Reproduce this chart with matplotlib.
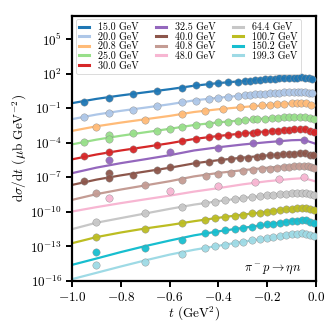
import numpy as np
import matplotlib
matplotlib.use('Agg')
import matplotlib.pyplot as plt
from matplotlib.ticker import FixedLocator, LogFormatterSciNotation, NullLocator

plt.rcParams.update({
    'font.family': 'serif',
    'font.serif': ['cmr10'],
    'mathtext.fontset': 'cm',
    'axes.formatter.use_mathtext': True,
    'axes.unicode_minus': True,
})

# Beam energies and colours
labels = ['15.0 GeV', '20.0 GeV', '20.8 GeV', '25.0 GeV', '30.0 GeV', '32.5 GeV',
          '40.0 GeV', '40.8 GeV', '48.0 GeV', '64.4 GeV', '100.7 GeV',
          '150.2 GeV', '199.3 GeV']
colors = ['#1f77b4', '#aec7e8', '#ffbb78', '#98df8a', '#d62728', '#9467bd',
          '#8c564b', '#c49c94', '#f7b6d2', '#c7c7c7', '#bcbd22', '#17becf',
          '#9edae5']

# model curves (log10 of scaled dsigma/dt) on a t grid
t_line = [-1.0, -0.9, -0.8, -0.7, -0.6, -0.5, -0.4, -0.3, -0.2, -0.1, -0.05, 0.0]
line_15 = [-0.57, -0.2, 0.1, 0.37, 0.64, 0.94, 1.17, 1.35, 1.5, 1.63, 1.66, 1.45]
line_20 = [-1.96, -1.56, -1.24, -0.96, -0.67, -0.33, -0.10, 0.10, 0.26, 0.41, 0.43, 0.21]
line_208 = [-2.98, -2.58, -2.26, -1.97, -1.68, -1.34, -1.10, -0.91, -0.74, -0.59, -0.57, -0.87]
line_25 = [-4.15, -3.74, -3.4, -3.1, -2.8, -2.47, -2.24, -2.05, -1.89, -1.76, -1.74, -2.02]
line_30 = [-5.45, -5.03, -4.68, -4.37, -4.05, -3.68, -3.42, -3.20, -3.02, -2.86, -2.83, -3.13]
line_325 = [-6.65, -6.17, -5.78, -5.44, -5.09, -4.68, -4.40, -4.16, -3.96, -3.79, -3.76, -4.11]
line_40 = [-7.67, -7.21, -6.84, -6.51, -6.18, -5.80, -5.52, -5.30, -5.11, -4.95, -4.92, -5.24]
line_408 = [-8.97, -8.47, -8.07, -7.71, -7.35, -6.93, -6.63, -6.39, -6.18, -6.0, -5.97, -6.22]
line_48 = [-9.98, -9.6, -9.25, -8.92, -8.6, -8.25, -7.95, -7.62, -7.35, -7.15, -7.08, -7.38]
line_644 = [-11.51, -10.95, -10.55, -10.15, -9.75, -9.38, -9.08, -8.8, -8.58, -8.38, -8.33, -8.62]
line_1007 = [-12.73, -12.2, -11.8, -11.45, -11.15, -10.82, -10.52, -10.25, -10.0, -9.72, -9.62, -9.98]
line_1502 = [-14.61, -14.06, -13.5, -12.98, -12.5, -12.05, -11.7, -11.4, -11.1, -10.8, -10.72, -11.05]
line_1993 = [-15.85, -15.3, -14.75, -14.22, -13.72, -13.3, -12.95, -12.6, -12.3, -11.95, -11.85, -12.2]

# data points (t, log10 of scaled dsigma/dt)
t_15 = [-0.95, -0.85, -0.75, -0.65, -0.55, -0.49, -0.44, -0.40, -0.36, -0.32, -0.29,
        -0.27, -0.25, -0.23, -0.21, -0.19, -0.17, -0.15, -0.13, -0.11, -0.09, -0.08,
        -0.06, -0.045, -0.03, -0.015]
y_15 = [-0.44, -0.09, 0.21, 0.47, 0.78, 0.99, 1.06, 1.15, 1.25, 1.30, 1.37, 1.39,
        1.42, 1.46, 1.50, 1.52, 1.55, 1.57, 1.60, 1.62, 1.64, 1.65, 1.66, 1.64, 1.60, 1.55]
t_20 = [-0.95, -0.85, -0.75, -0.65, -0.55, -0.49, -0.44, -0.40, -0.36, -0.32, -0.29,
        -0.27, -0.25, -0.23, -0.21, -0.19, -0.17, -0.15, -0.13, -0.11, -0.09, -0.075,
        -0.06, -0.045, -0.03, -0.015]
y_20 = [-1.74, -1.44, -1.16, -0.81, -0.49, -0.35, -0.22, -0.12, -0.03, 0.06, 0.12,
        0.15, 0.18, 0.22, 0.25, 0.28, 0.31, 0.34, 0.37, 0.40, 0.42, 0.43, 0.43, 0.40,
        0.34, 0.28]
t_208 = [-0.9, -0.7, -0.55, -0.455, -0.38, -0.31, -0.26, -0.22, -0.19, -0.16, -0.13,
         -0.10, -0.08, -0.06, -0.04, -0.02]
y_208 = [-2.66, -2.02, -1.53, -1.25, -1.06, -0.92, -0.84, -0.77, -0.72, -0.67, -0.63,
         -0.59, -0.58, -0.57, -0.60, -0.70]
t_25 = [-0.95, -0.85, -0.85, -0.75, -0.65, -0.60, -0.55, -0.49, -0.44, -0.40, -0.36,
        -0.32, -0.29, -0.26, -0.24, -0.21, -0.18, -0.155, -0.13, -0.11, -0.09, -0.065,
        -0.045, -0.025, -0.008]
y_25 = [-3.91, -3.35, -3.70, -3.18, -2.98, -2.83, -2.66, -2.46, -2.38, -2.25, -2.17,
        -2.09, -2.04, -1.99, -1.96, -1.91, -1.86, -1.83, -1.80, -1.77, -1.75, -1.74,
        -1.76, -1.85, -1.95]
t_30 = [-0.95, -0.85, -0.75, -0.65, -0.55, -0.49, -0.44, -0.40, -0.36, -0.32, -0.29,
        -0.26, -0.24, -0.21, -0.18, -0.155, -0.13, -0.11, -0.09, -0.065, -0.045,
        -0.025, -0.008]
y_30 = [-5.12, -4.83, -4.54, -4.19, -3.85, -3.67, -3.55, -3.43, -3.33, -3.24, -3.18,
        -3.12, -3.09, -3.04, -2.99, -2.95, -2.91, -2.88, -2.85, -2.83, -2.85, -2.95, -3.05]
t_325 = [-0.85, -0.60, -0.40, -0.26, -0.15, -0.05]
y_325 = [-5.50, -4.83, -4.48, -4.05, -3.82, -3.76]
t_40 = [-0.95, -0.85, -0.85, -0.75, -0.65, -0.60, -0.49, -0.44, -0.39, -0.35, -0.31,
        -0.28, -0.24, -0.22, -0.19, -0.16, -0.135, -0.11, -0.09, -0.065, -0.045,
        -0.025, -0.012]
y_40 = [-7.32, -6.60, -7.08, -6.83, -6.36, -6.08, -5.79, -5.68, -5.55, -5.45, -5.36,
        -5.29, -5.21, -5.17, -5.10, -5.05, -5.01, -4.98, -4.95, -4.93, -4.94, -5.03, -5.10]
t_408 = [-0.9, -0.7, -0.55, -0.45, -0.40, -0.35, -0.30, -0.26, -0.22, -0.19, -0.16,
         -0.13, -0.11, -0.09, -0.07, -0.05, -0.035, -0.02, -0.008]
y_408 = [-8.39, -7.67, -7.23, -6.88, -6.75, -6.62, -6.50, -6.41, -6.32, -6.25, -6.19,
         -6.13, -6.08, -6.04, -6.01, -5.99, -6.03, -6.10, -6.17]
t_48 = [-0.85, -0.60, -0.40, -0.25, -0.15, -0.05]
y_48 = [-8.82, -8.19, -7.75, -7.38, -7.17, -7.0]
t_dense = [-0.9, -0.7, -0.55, -0.455, -0.414, -0.373, -0.332, -0.30, -0.262, -0.23,
           -0.20, -0.176, -0.148, -0.123, -0.098, -0.078, -0.057, -0.041, -0.025, -0.008]
y_644 = [-10.91, -10.12, -9.55, -9.25, -9.12, -9.0, -8.90, -8.82, -8.73, -8.65, -8.58,
         -8.53, -8.47, -8.42, -8.38, -8.36, -8.34, -8.37, -8.45, -8.55]
y_1007 = [-12.15, -11.51, -10.99, -10.68, -10.56, -10.45, -10.34, -10.25, -10.15,
          -10.07, -10.0, -9.94, -9.86, -9.79, -9.72, -9.68, -9.64, -9.66, -9.76, -9.88]
y_1502 = [-13.46, -13.11, -12.44, -11.88, -11.75, -11.62, -11.5, -11.4, -11.29,
          -11.19, -11.1, -11.03, -10.94, -10.87, -10.80, -10.76, -10.73, -10.75, -10.85, -10.96]
y_1993 = [-14.61, -14.32, -13.66, -13.15, -13.01, -12.87, -12.72, -12.6, -12.49,
          -12.39, -12.3, -12.21, -12.11, -12.03, -11.95, -11.9, -11.87, -11.9, -12.0, -12.1]

lines = [line_15, line_20, line_208, line_25, line_30, line_325, line_40, line_408,
         line_48, line_644, line_1007, line_1502, line_1993]
points = [(t_15, y_15), (t_20, y_20), (t_208, y_208), (t_25, y_25), (t_30, y_30),
          (t_325, y_325), (t_40, y_40), (t_408, y_408), (t_48, y_48),
          (t_dense, y_644), (t_dense, y_1007), (t_dense, y_1502), (t_dense, y_1993)]

fig = plt.figure(figsize=(3.32, 3.32), dpi=100)
ax = fig.add_axes([0.217, 0.154, 0.735, 0.798])

for lab, c, ln, (tp, yp) in zip(labels, colors, lines, points):
    ax.plot(t_line, 10.0**np.array(ln), color=c, lw=1.6, label=lab, zorder=2)
    ax.plot(tp, 10.0**np.array(yp), 'o', color=c, ms=5.3, mec='0.55', mew=0.3,
            alpha=0.95, zorder=3)

ax.set_yscale('log')
ax.set_xlim(-1.0, 0.0)
ax.set_ylim(1e-16, 1e7)
ax.yaxis.set_major_locator(FixedLocator(10.0**np.arange(-16, 7, 3)))
ax.yaxis.set_major_formatter(LogFormatterSciNotation())
ax.yaxis.set_minor_locator(NullLocator())
ax.set_xticks([-1.0, -0.8, -0.6, -0.4, -0.2, 0.0])
ax.tick_params(direction='out', length=4, width=1.4, labelsize=9.5, pad=3)
for s in ax.spines.values():
    s.set_linewidth(1.6)

ax.set_xlabel(r'$t$ (GeV$^2$)', fontsize=9.5, labelpad=1)
ax.set_ylabel(r'$\mathrm{d}\sigma/\mathrm{d}t$ ($\mu$b GeV$^{-2}$)', fontsize=9.5, labelpad=1)
ax.text(0.94, 0.02, r'$\pi^- p \rightarrow \eta n$', transform=ax.transAxes,
        ha='right', va='bottom', fontsize=9)

leg = ax.legend(ncol=3, loc='upper left', fontsize=7.2, handlelength=1.0,
                handletextpad=0.9, columnspacing=1.7, labelspacing=0.0,
                borderaxespad=0.35, borderpad=0.35, frameon=True)
leg.get_frame().set_linewidth(0.6)
for h in leg.get_lines():
    h.set_linewidth(2.2)

fig.savefig('out.png', dpi=100)
